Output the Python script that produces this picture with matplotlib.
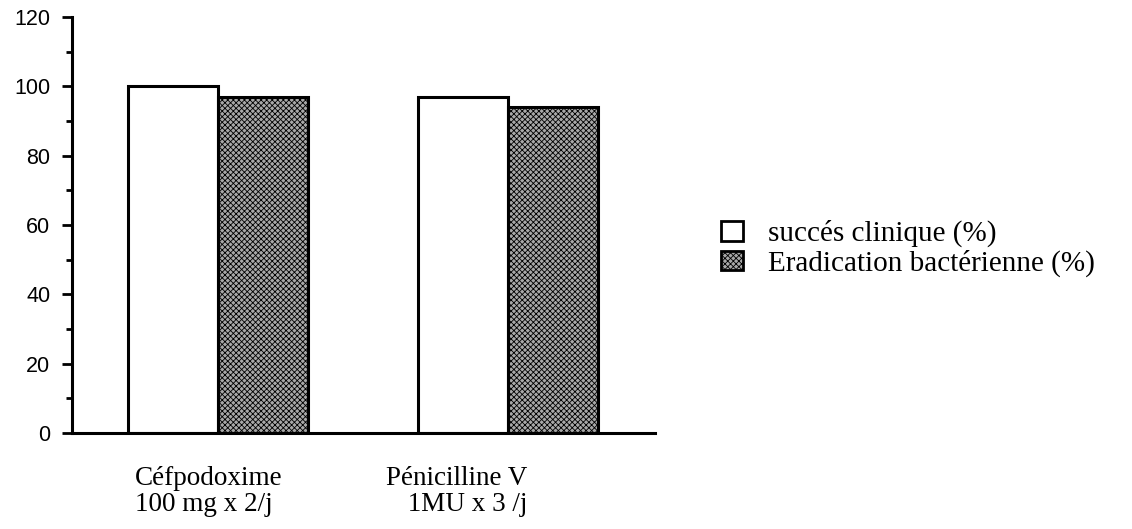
import matplotlib
matplotlib.use("Agg")
from matplotlib import pyplot as plt
from matplotlib.patches import Patch
import numpy as np

# data
groups = ["Céfpodoxime\n100 mg x 2/j", "Pénicilline V\n 1MU x 3 /j"]
succes_clinique = [100, 97]
eradication = [97, 94]
series_labels = ["succés clinique (%)", "Eradication bactérienne (%)"]
yticks_major = [0, 20, 40, 60, 80, 100, 120]

serif = ["Liberation Serif", "DejaVu Serif"]
sans = ["Liberation Sans", "DejaVu Sans"]

fig = plt.figure(figsize=(11.32, 5.29), dpi=100)
ax = fig.add_axes([0.0636, 0.1815, 0.515, 0.7865])

x = np.arange(len(groups))
width = 0.31
plt.rcParams['hatch.linewidth'] = 0.6
ax.bar(x - width / 2, succes_clinique, width, color="white",
       edgecolor="black", linewidth=2.2)
ax.bar(x + width / 2, eradication, width, color="#a8a8a8",
       edgecolor="black", linewidth=2.2, hatch="xxxxxx")

ax.set_xlim(-0.503, 1.507)
ax.set_ylim(0, 120)
ax.set_yticks(yticks_major)
ax.set_yticks(np.arange(0, 121, 10), minor=True)
ax.set_yticklabels([str(v) for v in yticks_major], family=sans, fontsize=15.5)
ax.tick_params(axis="y", which="major", direction="out", length=7.5, width=2, pad=8)
ax.tick_params(axis="y", which="minor", direction="out", length=4, width=2)
ax.set_xticks([])
for side in ["top", "right"]:
    ax.spines[side].set_visible(False)
ax.spines["left"].set_linewidth(2.2)
ax.spines["bottom"].set_linewidth(2.2)

# category labels below the axis
ax.text(-0.03, -0.08, groups[0], transform=ax.get_xaxis_transform(),
        ha="center", va="top", multialignment="left",
        family=serif, fontsize=19.5, linespacing=1.05)
ax.text(0.825, -0.08, groups[1], transform=ax.get_xaxis_transform(),
        ha="center", va="top", multialignment="right",
        family=serif, fontsize=19.5, linespacing=1.05)

handles = [Patch(facecolor="white", edgecolor="black", linewidth=2),
           Patch(facecolor="#a8a8a8", edgecolor="black", linewidth=2, hatch="xxxxxx")]
fig.legend(handles, series_labels, loc="center left", bbox_to_anchor=(0.637, 0.53),
           frameon=False, prop={"family": serif, "size": 21},
           borderpad=0, borderaxespad=0,
           handlelength=0.75, handleheight=0.65, handletextpad=0.85, labelspacing=0.08)

plt.savefig("out.png", dpi=100)
